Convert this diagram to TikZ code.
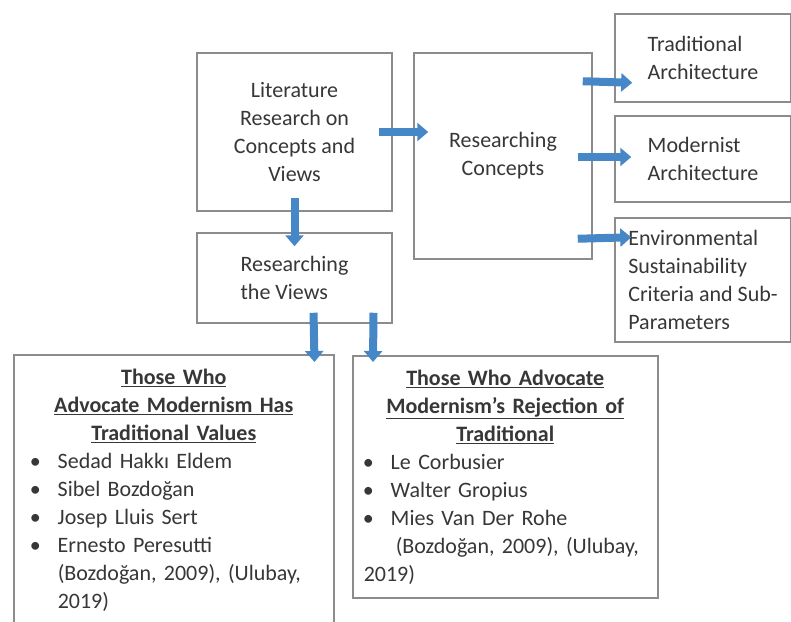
\documentclass[tikz,border=0pt]{standalone}
\usepackage{fontspec}
\setmainfont{Carlito}
\usetikzlibrary{arrows.meta,calc}
\definecolor{flowblue}{RGB}{70,135,200}
\definecolor{boxgray}{RGB}{140,140,140}
\definecolor{inkgray}{RGB}{55,55,55}
\newcommand{\itm}[2][11pt]{\hspace*{#1}\makebox[28pt][l]{\textbullet}#2\\}
\begin{document}
\begin{tikzpicture}[x=1pt,y=-1pt,
  box/.style={draw=boxgray,line width=1.5pt,text=inkgray,inner sep=0pt,font=\fontsize{22}{28}\selectfont},
  flow/.style={draw=flowblue,line width=8pt,-{Triangle[length=11pt,width=18pt]}}]
  \useasboundingbox (0,0) rectangle (791,621);
  \fill[white] (0,0) rectangle (791,621);
  % top row
  \node[box,minimum width=195pt,minimum height=158pt,align=center] (lit) at (294.5,132) {Literature\\Research on\\Concepts and\\Views};
  \node[box,minimum width=178pt,minimum height=206pt,align=center] (concepts) at (503,156) {Researching\\Concepts};
  \node[box,minimum width=195pt,minimum height=90pt,align=left] (views) at (294.5,278) {Researching\\the Views};
  % concept boxes on the right
  \node[box,minimum width=176pt,minimum height=88pt,align=left] (tradarch) at (703,58) {Traditional\\Architecture};
  \node[box,minimum width=176pt,minimum height=86pt,align=left] (modarch) at (703,159) {Modernist\\Architecture};
  \node[box,minimum width=176pt,minimum height=124pt,align=left] (envsus) at (703,280) {Environmental\\Sustainability\\Criteria and Sub-\\Parameters};
  % views boxes
  \node[box,anchor=north west,text width=310pt,inner xsep=5pt,inner ysep=14pt] (keepers) at (13,354) {%
    {\bfseries\centering\underline{Those Who}\\\underline{Advocate Modernism Has}\\\underline{Traditional Values}\par}%
    \raggedright
    \itm{Sedad Hakkı Eldem}
    \itm{Sibel Bozdoğan}
    \itm{Josep Lluis Sert}
    \itm{Ernesto Peresutti}
    \hspace*{39pt}(Bozdoğan, 2009), (Ulubay,\\
    \hspace*{39pt}2019)};
  \node[box,anchor=north west,text width=295pt,inner xsep=5pt,inner ysep=14pt] (rejecters) at (352,355) {%
    {\bfseries\centering\underline{Those Who Advocate}\\\underline{Modernism's Rejection of}\\\underline{Traditional}\par}%
    \raggedright
    \itm[5pt]{Le Corbusier}
    \itm[5pt]{Walter Gropius}
    \itm[5pt]{Mies Van Der Rohe}
    \hspace*{38pt}(Bozdoğan, 2009), (Ulubay,\\
    \hspace*{6pt}2019)};
  % arrows
  \draw[flow] ([xshift=-14pt]lit.east) -- ($(concepts.west |- lit.east)+(15,0)$);
  \draw[flow] ([yshift=14pt]lit.south) -- ([yshift=-14pt]views.north);
  \draw[flow] ($(concepts.north east)+(-10,29)$) -- ($(tradarch.south west)+(18,-20)$);
  \draw[flow] ($(concepts.east)+(-15,1)$) -- ($(modarch.west)+(17,-2)$);
  \draw[flow] ($(concepts.south east)+(-15,-21)$) -- ($(envsus.north west)+(17,20)$);
  \draw[flow] ($(views.south)+(19,-11)$) -- ($(keepers.north east)+(-20,8)$);
  \draw[flow] ($(views.south)+(79,-11)$) -- ($(rejecters.north west)+(21,7)$);
\end{tikzpicture}
\end{document}
